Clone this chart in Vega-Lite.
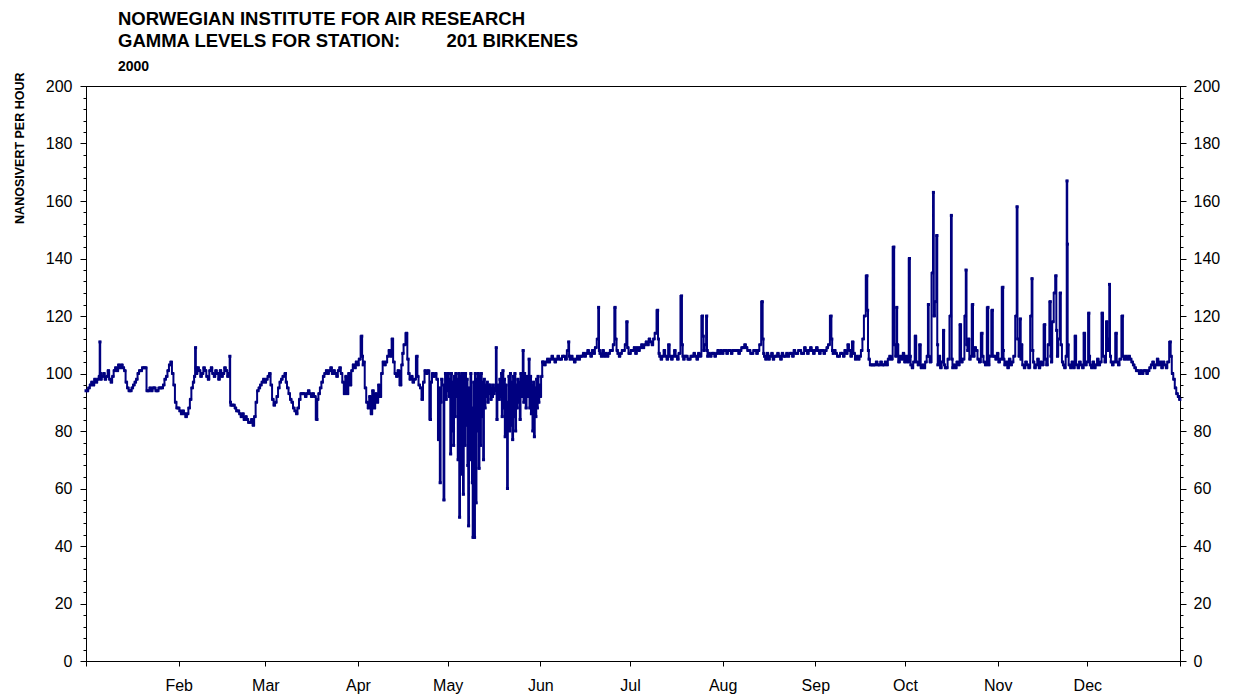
{
"$schema": "https://vega.github.io/schema/vega-lite/v6.json",
"width": 1094, "height": 575,
"autosize": {"type": "none"},
"padding": {"left": 86, "top": 86, "right": 55, "bottom": 37},
"background": "white",
"config": {
 "font": "Liberation Sans",
 "view": {"stroke": "#000000", "strokeWidth": 1},
 "axis": {"domainColor": "#000000", "tickColor": "#000000", "labelColor": "#000000", "labelFont": "Liberation Sans", "labelFontSize": 16, "grid": false, "domainWidth": 1, "tickWidth": 1, "titleColor": "#000000"}
},
"title": {"text": ["NORWEGIAN INSTITUTE FOR AIR RESEARCH", "GAMMA LEVELS FOR STATION:\u00a0\u00a0\u00a0\u00a0\u00a0\u00a0\u00a0\u00a0\u00a0201 BIRKENES"], "subtitle": "2000", "anchor": "start", "frame": "group", "dx": 32, "fontSize": 18.5, "fontWeight": "bold", "font": "Liberation Sans", "lineHeight": 22, "subtitleFontSize": 14, "subtitleFontWeight": "bold", "subtitleFont": "Liberation Sans", "subtitlePadding": 10, "offset": -2, "color": "#000000", "subtitleColor": "#000000"},
"data": {"values": [
{"t":"2000-01-01T00:00","v":94},{"t":"2000-01-01T12:00","v":94},{"t":"2000-01-02T00:00","v":95},{"t":"2000-01-02T12:00","v":96},{"t":"2000-01-03T00:00","v":97},{"t":"2000-01-03T12:00","v":96},{"t":"2000-01-04T00:00","v":98},{"t":"2000-01-04T12:00","v":97},{"t":"2000-01-05T00:00","v":98},{"t":"2000-01-05T12:00","v":99},{"t":"2000-01-05T16:00","v":111},{"t":"2000-01-05T20:00","v":100},{"t":"2000-01-06T00:00","v":98},{"t":"2000-01-06T12:00","v":99},{"t":"2000-01-07T00:00","v":100},{"t":"2000-01-07T12:00","v":98},{"t":"2000-01-08T00:00","v":99},{"t":"2000-01-08T12:00","v":101},{"t":"2000-01-09T00:00","v":98},{"t":"2000-01-09T12:00","v":97},{"t":"2000-01-10T00:00","v":99},{"t":"2000-01-10T12:00","v":101},{"t":"2000-01-11T00:00","v":102},{"t":"2000-01-11T12:00","v":101},{"t":"2000-01-12T00:00","v":103},{"t":"2000-01-12T12:00","v":102},{"t":"2000-01-13T00:00","v":103},{"t":"2000-01-13T12:00","v":102},{"t":"2000-01-14T00:00","v":101},{"t":"2000-01-14T12:00","v":97},{"t":"2000-01-15T00:00","v":95},{"t":"2000-01-15T12:00","v":94},{"t":"2000-01-16T00:00","v":94},{"t":"2000-01-16T12:00","v":95},{"t":"2000-01-17T00:00","v":96},{"t":"2000-01-17T12:00","v":97},{"t":"2000-01-18T00:00","v":98},{"t":"2000-01-18T12:00","v":100},{"t":"2000-01-19T00:00","v":101},{"t":"2000-01-19T12:00","v":101},{"t":"2000-01-20T00:00","v":102},{"t":"2000-01-20T12:00","v":102},{"t":"2000-01-21T00:00","v":102},{"t":"2000-01-21T12:00","v":94},{"t":"2000-01-22T00:00","v":94},{"t":"2000-01-22T12:00","v":95},{"t":"2000-01-23T00:00","v":94},{"t":"2000-01-23T12:00","v":95},{"t":"2000-01-24T00:00","v":95},{"t":"2000-01-24T12:00","v":94},{"t":"2000-01-25T00:00","v":94},{"t":"2000-01-25T12:00","v":95},{"t":"2000-01-26T00:00","v":95},{"t":"2000-01-26T12:00","v":95},{"t":"2000-01-27T00:00","v":96},{"t":"2000-01-27T12:00","v":98},{"t":"2000-01-28T00:00","v":99},{"t":"2000-01-28T12:00","v":101},{"t":"2000-01-29T00:00","v":103},{"t":"2000-01-29T12:00","v":104},{"t":"2000-01-30T00:00","v":100},{"t":"2000-01-30T12:00","v":96},{"t":"2000-01-31T00:00","v":90},{"t":"2000-01-31T12:00","v":88},
{"t":"2000-02-01T00:00","v":88},{"t":"2000-02-01T12:00","v":87},{"t":"2000-02-02T00:00","v":86},{"t":"2000-02-02T12:00","v":87},{"t":"2000-02-03T00:00","v":86},{"t":"2000-02-03T12:00","v":85},{"t":"2000-02-04T00:00","v":86},{"t":"2000-02-04T12:00","v":88},{"t":"2000-02-05T00:00","v":91},{"t":"2000-02-05T12:00","v":95},{"t":"2000-02-06T00:00","v":97},{"t":"2000-02-06T08:00","v":99},{"t":"2000-02-06T16:00","v":109},{"t":"2000-02-06T20:00","v":102},{"t":"2000-02-07T00:00","v":100},{"t":"2000-02-07T12:00","v":102},{"t":"2000-02-08T00:00","v":101},{"t":"2000-02-08T12:00","v":99},{"t":"2000-02-09T00:00","v":100},{"t":"2000-02-09T12:00","v":102},{"t":"2000-02-10T00:00","v":101},{"t":"2000-02-10T12:00","v":99},{"t":"2000-02-11T00:00","v":98},{"t":"2000-02-11T12:00","v":101},{"t":"2000-02-12T00:00","v":102},{"t":"2000-02-12T12:00","v":100},{"t":"2000-02-13T00:00","v":99},{"t":"2000-02-13T12:00","v":101},{"t":"2000-02-14T00:00","v":100},{"t":"2000-02-14T12:00","v":98},{"t":"2000-02-15T00:00","v":101},{"t":"2000-02-15T12:00","v":99},{"t":"2000-02-16T00:00","v":100},{"t":"2000-02-16T12:00","v":102},{"t":"2000-02-17T00:00","v":101},{"t":"2000-02-17T12:00","v":99},{"t":"2000-02-18T00:00","v":100},{"t":"2000-02-18T03:00","v":106},{"t":"2000-02-18T08:00","v":90},{"t":"2000-02-18T12:00","v":89},{"t":"2000-02-19T00:00","v":89},{"t":"2000-02-19T12:00","v":89},{"t":"2000-02-20T00:00","v":88},{"t":"2000-02-20T12:00","v":87},{"t":"2000-02-21T00:00","v":87},{"t":"2000-02-21T12:00","v":86},{"t":"2000-02-22T00:00","v":85},{"t":"2000-02-22T12:00","v":86},{"t":"2000-02-23T00:00","v":84},{"t":"2000-02-23T12:00","v":85},{"t":"2000-02-24T00:00","v":84},{"t":"2000-02-24T12:00","v":83},{"t":"2000-02-25T00:00","v":83},{"t":"2000-02-25T12:00","v":84},{"t":"2000-02-26T00:00","v":82},{"t":"2000-02-26T12:00","v":85},{"t":"2000-02-27T00:00","v":90},{"t":"2000-02-27T12:00","v":94},{"t":"2000-02-28T00:00","v":95},{"t":"2000-02-28T12:00","v":96},{"t":"2000-02-29T00:00","v":97},{"t":"2000-02-29T12:00","v":98},
{"t":"2000-03-01T00:00","v":97},{"t":"2000-03-01T12:00","v":98},{"t":"2000-03-02T00:00","v":99},{"t":"2000-03-02T12:00","v":100},{"t":"2000-03-03T00:00","v":96},{"t":"2000-03-03T12:00","v":91},{"t":"2000-03-04T00:00","v":89},{"t":"2000-03-04T12:00","v":90},{"t":"2000-03-05T00:00","v":92},{"t":"2000-03-05T12:00","v":95},{"t":"2000-03-06T00:00","v":97},{"t":"2000-03-06T12:00","v":98},{"t":"2000-03-07T00:00","v":99},{"t":"2000-03-07T18:00","v":100},{"t":"2000-03-08T00:00","v":97},{"t":"2000-03-08T12:00","v":95},{"t":"2000-03-09T00:00","v":93},{"t":"2000-03-09T12:00","v":91},{"t":"2000-03-10T00:00","v":90},{"t":"2000-03-10T12:00","v":88},{"t":"2000-03-11T00:00","v":87},{"t":"2000-03-11T12:00","v":86},{"t":"2000-03-12T00:00","v":88},{"t":"2000-03-12T12:00","v":91},{"t":"2000-03-13T00:00","v":93},{"t":"2000-03-13T12:00","v":93},{"t":"2000-03-14T00:00","v":93},{"t":"2000-03-14T12:00","v":92},{"t":"2000-03-15T00:00","v":93},{"t":"2000-03-15T12:00","v":94},{"t":"2000-03-16T00:00","v":93},{"t":"2000-03-16T12:00","v":92},{"t":"2000-03-17T00:00","v":93},{"t":"2000-03-17T12:00","v":92},{"t":"2000-03-18T06:00","v":84},{"t":"2000-03-18T12:00","v":91},{"t":"2000-03-19T00:00","v":93},{"t":"2000-03-19T12:00","v":95},{"t":"2000-03-20T00:00","v":97},{"t":"2000-03-20T12:00","v":99},{"t":"2000-03-21T00:00","v":100},{"t":"2000-03-21T12:00","v":101},{"t":"2000-03-22T00:00","v":100},{"t":"2000-03-22T12:00","v":101},{"t":"2000-03-23T00:00","v":102},{"t":"2000-03-23T12:00","v":100},{"t":"2000-03-24T00:00","v":101},{"t":"2000-03-24T12:00","v":100},{"t":"2000-03-25T00:00","v":99},{"t":"2000-03-25T12:00","v":101},{"t":"2000-03-26T00:00","v":102},{"t":"2000-03-26T12:00","v":100},{"t":"2000-03-27T00:00","v":97},{"t":"2000-03-27T12:00","v":93},{"t":"2000-03-28T00:00","v":99},{"t":"2000-03-28T12:00","v":93},{"t":"2000-03-29T00:00","v":100},{"t":"2000-03-29T12:00","v":96},{"t":"2000-03-30T00:00","v":101},{"t":"2000-03-30T12:00","v":103},{"t":"2000-03-31T00:00","v":102},{"t":"2000-03-31T12:00","v":104},
{"t":"2000-04-01T00:00","v":103},{"t":"2000-04-01T12:00","v":105},{"t":"2000-04-02T06:00","v":113},{"t":"2000-04-02T12:00","v":106},{"t":"2000-04-02T18:00","v":103},{"t":"2000-04-03T00:00","v":104},{"t":"2000-04-03T12:00","v":95},{"t":"2000-04-04T00:00","v":90},{"t":"2000-04-04T12:00","v":88},{"t":"2000-04-05T00:00","v":92},{"t":"2000-04-05T12:00","v":86},{"t":"2000-04-06T00:00","v":94},{"t":"2000-04-06T12:00","v":88},{"t":"2000-04-07T00:00","v":93},{"t":"2000-04-07T12:00","v":90},{"t":"2000-04-08T00:00","v":96},{"t":"2000-04-08T12:00","v":92},{"t":"2000-04-09T00:00","v":100},{"t":"2000-04-09T12:00","v":104},{"t":"2000-04-10T00:00","v":103},{"t":"2000-04-10T12:00","v":104},{"t":"2000-04-11T00:00","v":106},{"t":"2000-04-11T12:00","v":108},{"t":"2000-04-12T00:00","v":106},{"t":"2000-04-12T12:00","v":112},{"t":"2000-04-13T00:00","v":104},{"t":"2000-04-13T12:00","v":100},{"t":"2000-04-14T00:00","v":99},{"t":"2000-04-14T12:00","v":101},{"t":"2000-04-15T06:00","v":96},{"t":"2000-04-15T18:00","v":103},{"t":"2000-04-16T00:00","v":107},{"t":"2000-04-16T12:00","v":110},{"t":"2000-04-17T06:00","v":114},{"t":"2000-04-17T18:00","v":105},{"t":"2000-04-18T00:00","v":100},{"t":"2000-04-18T12:00","v":98},{"t":"2000-04-19T00:00","v":99},{"t":"2000-04-19T12:00","v":97},{"t":"2000-04-20T00:00","v":98},{"t":"2000-04-20T18:00","v":106},{"t":"2000-04-21T00:00","v":99},{"t":"2000-04-21T12:00","v":96},{"t":"2000-04-22T00:00","v":95},{"t":"2000-04-22T12:00","v":91},{"t":"2000-04-23T00:00","v":97},{"t":"2000-04-23T12:00","v":101},{"t":"2000-04-24T00:00","v":100},{"t":"2000-04-24T12:00","v":101},{"t":"2000-04-25T06:00","v":84},{"t":"2000-04-25T12:00","v":97},{"t":"2000-04-26T00:00","v":100},{"t":"2000-04-26T12:00","v":99},{"t":"2000-04-27T00:00","v":100},{"t":"2000-04-27T12:00","v":98},{"t":"2000-04-28T00:00","v":77},{"t":"2000-04-28T06:00","v":95},{"t":"2000-04-28T12:00","v":62},{"t":"2000-04-28T18:00","v":90},{"t":"2000-04-29T00:00","v":98},{"t":"2000-04-29T12:00","v":96},{"t":"2000-04-29T18:00","v":56},{"t":"2000-04-30T00:00","v":95},{"t":"2000-04-30T06:00","v":100},{"t":"2000-04-30T12:00","v":91},{"t":"2000-04-30T18:00","v":99},
{"t":"2000-05-01T00:00","v":94},{"t":"2000-05-01T06:00","v":100},{"t":"2000-05-01T12:00","v":92},{"t":"2000-05-01T18:00","v":98},{"t":"2000-05-02T00:00","v":72},{"t":"2000-05-02T06:00","v":100},{"t":"2000-05-02T12:00","v":80},{"t":"2000-05-02T18:00","v":97},{"t":"2000-05-03T00:00","v":75},{"t":"2000-05-03T06:00","v":99},{"t":"2000-05-03T12:00","v":85},{"t":"2000-05-03T18:00","v":100},{"t":"2000-05-04T00:00","v":92},{"t":"2000-05-04T06:00","v":98},{"t":"2000-05-04T12:00","v":70},{"t":"2000-05-04T18:00","v":100},{"t":"2000-05-05T00:00","v":50},{"t":"2000-05-05T06:00","v":99},{"t":"2000-05-05T12:00","v":65},{"t":"2000-05-05T18:00","v":100},{"t":"2000-05-06T00:00","v":95},{"t":"2000-05-06T06:00","v":58},{"t":"2000-05-06T12:00","v":100},{"t":"2000-05-06T18:00","v":75},{"t":"2000-05-07T00:00","v":100},{"t":"2000-05-07T06:00","v":82},{"t":"2000-05-07T12:00","v":98},{"t":"2000-05-07T18:00","v":68},{"t":"2000-05-08T00:00","v":47},{"t":"2000-05-08T06:00","v":95},{"t":"2000-05-08T12:00","v":70},{"t":"2000-05-08T18:00","v":100},{"t":"2000-05-09T00:00","v":88},{"t":"2000-05-09T06:00","v":62},{"t":"2000-05-09T12:00","v":43},{"t":"2000-05-09T18:00","v":97},{"t":"2000-05-10T00:00","v":43},{"t":"2000-05-10T06:00","v":100},{"t":"2000-05-10T12:00","v":55},{"t":"2000-05-10T18:00","v":98},{"t":"2000-05-11T00:00","v":80},{"t":"2000-05-11T06:00","v":100},{"t":"2000-05-11T12:00","v":67},{"t":"2000-05-11T18:00","v":99},{"t":"2000-05-12T00:00","v":75},{"t":"2000-05-12T06:00","v":100},{"t":"2000-05-12T12:00","v":85},{"t":"2000-05-12T18:00","v":97},{"t":"2000-05-13T00:00","v":70},{"t":"2000-05-13T06:00","v":98},{"t":"2000-05-13T12:00","v":88},{"t":"2000-05-13T18:00","v":96},{"t":"2000-05-14T00:00","v":92},{"t":"2000-05-14T06:00","v":97},{"t":"2000-05-14T12:00","v":90},{"t":"2000-05-14T18:00","v":96},{"t":"2000-05-15T00:00","v":93},{"t":"2000-05-15T06:00","v":96},{"t":"2000-05-15T12:00","v":91},{"t":"2000-05-15T18:00","v":95},{"t":"2000-05-16T00:00","v":92},{"t":"2000-05-16T06:00","v":96},{"t":"2000-05-16T12:00","v":93},{"t":"2000-05-16T18:00","v":94},{"t":"2000-05-17T00:00","v":95},{"t":"2000-05-17T06:00","v":109},{"t":"2000-05-17T12:00","v":84},{"t":"2000-05-17T18:00","v":94},{"t":"2000-05-18T00:00","v":96},{"t":"2000-05-18T06:00","v":91},{"t":"2000-05-18T12:00","v":98},{"t":"2000-05-18T18:00","v":92},{"t":"2000-05-19T00:00","v":100},{"t":"2000-05-19T06:00","v":85},{"t":"2000-05-19T12:00","v":101},{"t":"2000-05-19T18:00","v":88},{"t":"2000-05-20T00:00","v":98},{"t":"2000-05-20T06:00","v":78},{"t":"2000-05-20T12:00","v":96},{"t":"2000-05-20T18:00","v":84},{"t":"2000-05-21T00:00","v":60},{"t":"2000-05-21T06:00","v":90},{"t":"2000-05-21T12:00","v":99},{"t":"2000-05-21T18:00","v":80},{"t":"2000-05-22T00:00","v":100},{"t":"2000-05-22T06:00","v":82},{"t":"2000-05-22T12:00","v":97},{"t":"2000-05-22T18:00","v":77},{"t":"2000-05-23T00:00","v":99},{"t":"2000-05-23T06:00","v":85},{"t":"2000-05-23T12:00","v":100},{"t":"2000-05-23T18:00","v":80},{"t":"2000-05-24T00:00","v":96},{"t":"2000-05-24T06:00","v":88},{"t":"2000-05-24T12:00","v":98},{"t":"2000-05-24T18:00","v":90},{"t":"2000-05-25T00:00","v":97},{"t":"2000-05-25T06:00","v":84},{"t":"2000-05-25T12:00","v":100},{"t":"2000-05-25T18:00","v":92},{"t":"2000-05-26T00:00","v":96},{"t":"2000-05-26T06:00","v":108},{"t":"2000-05-26T12:00","v":90},{"t":"2000-05-26T18:00","v":100},{"t":"2000-05-27T00:00","v":95},{"t":"2000-05-27T06:00","v":88},{"t":"2000-05-27T12:00","v":99},{"t":"2000-05-27T18:00","v":92},{"t":"2000-05-28T00:00","v":96},{"t":"2000-05-28T06:00","v":105},{"t":"2000-05-28T12:00","v":88},{"t":"2000-05-28T18:00","v":99},{"t":"2000-05-29T00:00","v":86},{"t":"2000-05-29T06:00","v":96},{"t":"2000-05-29T12:00","v":80},{"t":"2000-05-29T18:00","v":97},{"t":"2000-05-30T00:00","v":78},{"t":"2000-05-30T06:00","v":95},{"t":"2000-05-30T12:00","v":85},{"t":"2000-05-30T18:00","v":98},{"t":"2000-05-31T00:00","v":88},{"t":"2000-05-31T06:00","v":99},{"t":"2000-05-31T12:00","v":90},{"t":"2000-05-31T18:00","v":96},
{"t":"2000-06-01T00:00","v":92},{"t":"2000-06-01T12:00","v":99},{"t":"2000-06-01T18:00","v":104},{"t":"2000-06-02T00:00","v":104},{"t":"2000-06-02T12:00","v":103},{"t":"2000-06-03T00:00","v":104},{"t":"2000-06-03T12:00","v":105},{"t":"2000-06-04T00:00","v":104},{"t":"2000-06-04T12:00","v":105},{"t":"2000-06-05T00:00","v":106},{"t":"2000-06-05T12:00","v":105},{"t":"2000-06-06T00:00","v":104},{"t":"2000-06-06T12:00","v":105},{"t":"2000-06-07T00:00","v":106},{"t":"2000-06-07T12:00","v":105},{"t":"2000-06-08T00:00","v":105},{"t":"2000-06-08T12:00","v":106},{"t":"2000-06-09T00:00","v":106},{"t":"2000-06-09T12:00","v":105},{"t":"2000-06-10T06:00","v":108},{"t":"2000-06-10T12:00","v":111},{"t":"2000-06-10T18:00","v":106},{"t":"2000-06-11T00:00","v":105},{"t":"2000-06-11T12:00","v":106},{"t":"2000-06-12T00:00","v":105},{"t":"2000-06-12T12:00","v":104},{"t":"2000-06-13T00:00","v":105},{"t":"2000-06-13T12:00","v":106},{"t":"2000-06-14T00:00","v":105},{"t":"2000-06-14T12:00","v":106},{"t":"2000-06-15T00:00","v":106},{"t":"2000-06-15T12:00","v":107},{"t":"2000-06-16T00:00","v":106},{"t":"2000-06-16T12:00","v":107},{"t":"2000-06-17T00:00","v":108},{"t":"2000-06-17T12:00","v":107},{"t":"2000-06-18T00:00","v":106},{"t":"2000-06-18T12:00","v":108},{"t":"2000-06-19T00:00","v":107},{"t":"2000-06-19T12:00","v":109},{"t":"2000-06-20T06:00","v":112},{"t":"2000-06-20T12:00","v":123},{"t":"2000-06-20T18:00","v":108},{"t":"2000-06-21T00:00","v":107},{"t":"2000-06-21T12:00","v":106},{"t":"2000-06-22T00:00","v":108},{"t":"2000-06-22T12:00","v":106},{"t":"2000-06-23T00:00","v":107},{"t":"2000-06-23T12:00","v":106},{"t":"2000-06-24T00:00","v":107},{"t":"2000-06-24T12:00","v":108},{"t":"2000-06-25T00:00","v":108},{"t":"2000-06-25T12:00","v":110},{"t":"2000-06-26T00:00","v":123},{"t":"2000-06-26T06:00","v":112},{"t":"2000-06-26T18:00","v":108},{"t":"2000-06-27T00:00","v":107},{"t":"2000-06-27T12:00","v":106},{"t":"2000-06-28T00:00","v":107},{"t":"2000-06-28T12:00","v":108},{"t":"2000-06-29T00:00","v":108},{"t":"2000-06-29T12:00","v":110},{"t":"2000-06-30T00:00","v":118},{"t":"2000-06-30T06:00","v":109},{"t":"2000-06-30T18:00","v":107},
{"t":"2000-07-01T00:00","v":107},{"t":"2000-07-01T12:00","v":108},{"t":"2000-07-02T00:00","v":108},{"t":"2000-07-02T12:00","v":109},{"t":"2000-07-03T00:00","v":107},{"t":"2000-07-03T12:00","v":109},{"t":"2000-07-04T00:00","v":108},{"t":"2000-07-04T12:00","v":109},{"t":"2000-07-05T00:00","v":110},{"t":"2000-07-05T12:00","v":109},{"t":"2000-07-06T00:00","v":110},{"t":"2000-07-06T12:00","v":111},{"t":"2000-07-07T00:00","v":110},{"t":"2000-07-07T12:00","v":112},{"t":"2000-07-08T00:00","v":111},{"t":"2000-07-08T12:00","v":110},{"t":"2000-07-09T00:00","v":112},{"t":"2000-07-09T12:00","v":114},{"t":"2000-07-10T06:00","v":122},{"t":"2000-07-10T12:00","v":112},{"t":"2000-07-10T18:00","v":107},{"t":"2000-07-11T00:00","v":106},{"t":"2000-07-11T12:00","v":105},{"t":"2000-07-12T00:00","v":106},{"t":"2000-07-12T12:00","v":108},{"t":"2000-07-13T00:00","v":106},{"t":"2000-07-13T12:00","v":105},{"t":"2000-07-14T00:00","v":110},{"t":"2000-07-14T12:00","v":106},{"t":"2000-07-15T00:00","v":105},{"t":"2000-07-15T12:00","v":106},{"t":"2000-07-16T00:00","v":108},{"t":"2000-07-16T12:00","v":106},{"t":"2000-07-17T00:00","v":105},{"t":"2000-07-17T12:00","v":107},{"t":"2000-07-18T06:00","v":127},{"t":"2000-07-18T12:00","v":110},{"t":"2000-07-18T18:00","v":106},{"t":"2000-07-19T00:00","v":105},{"t":"2000-07-19T12:00","v":106},{"t":"2000-07-20T00:00","v":106},{"t":"2000-07-20T12:00","v":105},{"t":"2000-07-21T00:00","v":105},{"t":"2000-07-21T12:00","v":106},{"t":"2000-07-22T00:00","v":106},{"t":"2000-07-22T12:00","v":107},{"t":"2000-07-23T00:00","v":106},{"t":"2000-07-23T12:00","v":105},{"t":"2000-07-24T00:00","v":107},{"t":"2000-07-24T12:00","v":106},{"t":"2000-07-25T06:00","v":120},{"t":"2000-07-25T12:00","v":113},{"t":"2000-07-25T18:00","v":108},{"t":"2000-07-26T06:00","v":110},{"t":"2000-07-26T16:00","v":120},{"t":"2000-07-26T20:00","v":108},{"t":"2000-07-27T00:00","v":106},{"t":"2000-07-27T12:00","v":107},{"t":"2000-07-28T00:00","v":106},{"t":"2000-07-28T12:00","v":107},{"t":"2000-07-29T00:00","v":107},{"t":"2000-07-29T12:00","v":106},{"t":"2000-07-30T00:00","v":107},{"t":"2000-07-30T12:00","v":108},{"t":"2000-07-31T00:00","v":107},{"t":"2000-07-31T12:00","v":108},
{"t":"2000-08-01T00:00","v":107},{"t":"2000-08-01T12:00","v":108},{"t":"2000-08-02T00:00","v":108},{"t":"2000-08-02T12:00","v":107},{"t":"2000-08-03T00:00","v":108},{"t":"2000-08-03T12:00","v":108},{"t":"2000-08-04T00:00","v":107},{"t":"2000-08-04T12:00","v":108},{"t":"2000-08-05T00:00","v":108},{"t":"2000-08-05T12:00","v":108},{"t":"2000-08-06T00:00","v":108},{"t":"2000-08-06T12:00","v":107},{"t":"2000-08-07T00:00","v":108},{"t":"2000-08-07T12:00","v":109},{"t":"2000-08-08T00:00","v":109},{"t":"2000-08-08T12:00","v":110},{"t":"2000-08-09T00:00","v":109},{"t":"2000-08-09T12:00","v":108},{"t":"2000-08-10T00:00","v":108},{"t":"2000-08-10T12:00","v":107},{"t":"2000-08-11T00:00","v":107},{"t":"2000-08-11T12:00","v":108},{"t":"2000-08-12T00:00","v":108},{"t":"2000-08-12T12:00","v":107},{"t":"2000-08-13T00:00","v":108},{"t":"2000-08-13T12:00","v":110},{"t":"2000-08-14T06:00","v":125},{"t":"2000-08-14T12:00","v":112},{"t":"2000-08-14T18:00","v":107},{"t":"2000-08-15T00:00","v":106},{"t":"2000-08-15T12:00","v":105},{"t":"2000-08-16T00:00","v":107},{"t":"2000-08-16T12:00","v":105},{"t":"2000-08-17T00:00","v":106},{"t":"2000-08-17T12:00","v":107},{"t":"2000-08-18T00:00","v":105},{"t":"2000-08-18T12:00","v":106},{"t":"2000-08-19T00:00","v":106},{"t":"2000-08-19T12:00","v":107},{"t":"2000-08-20T00:00","v":106},{"t":"2000-08-20T12:00","v":105},{"t":"2000-08-21T00:00","v":107},{"t":"2000-08-21T12:00","v":106},{"t":"2000-08-22T00:00","v":106},{"t":"2000-08-22T12:00","v":107},{"t":"2000-08-23T00:00","v":106},{"t":"2000-08-23T12:00","v":107},{"t":"2000-08-24T00:00","v":107},{"t":"2000-08-24T12:00","v":106},{"t":"2000-08-25T00:00","v":108},{"t":"2000-08-25T12:00","v":107},{"t":"2000-08-26T00:00","v":107},{"t":"2000-08-26T12:00","v":108},{"t":"2000-08-27T00:00","v":108},{"t":"2000-08-27T12:00","v":107},{"t":"2000-08-28T00:00","v":107},{"t":"2000-08-28T12:00","v":109},{"t":"2000-08-29T00:00","v":108},{"t":"2000-08-29T12:00","v":107},{"t":"2000-08-30T00:00","v":108},{"t":"2000-08-30T12:00","v":109},{"t":"2000-08-31T00:00","v":108},{"t":"2000-08-31T12:00","v":107},
{"t":"2000-09-01T00:00","v":108},{"t":"2000-09-01T12:00","v":109},{"t":"2000-09-02T00:00","v":108},{"t":"2000-09-02T12:00","v":107},{"t":"2000-09-03T00:00","v":108},{"t":"2000-09-03T12:00","v":108},{"t":"2000-09-04T00:00","v":107},{"t":"2000-09-04T12:00","v":108},{"t":"2000-09-05T00:00","v":109},{"t":"2000-09-05T12:00","v":110},{"t":"2000-09-06T06:00","v":120},{"t":"2000-09-06T12:00","v":112},{"t":"2000-09-06T18:00","v":108},{"t":"2000-09-07T00:00","v":107},{"t":"2000-09-07T12:00","v":108},{"t":"2000-09-08T00:00","v":107},{"t":"2000-09-08T12:00","v":106},{"t":"2000-09-09T00:00","v":106},{"t":"2000-09-09T12:00","v":107},{"t":"2000-09-10T00:00","v":107},{"t":"2000-09-10T12:00","v":106},{"t":"2000-09-11T00:00","v":108},{"t":"2000-09-11T12:00","v":107},{"t":"2000-09-12T00:00","v":110},{"t":"2000-09-12T12:00","v":108},{"t":"2000-09-13T00:00","v":106},{"t":"2000-09-13T12:00","v":111},{"t":"2000-09-14T00:00","v":107},{"t":"2000-09-14T12:00","v":105},{"t":"2000-09-15T00:00","v":106},{"t":"2000-09-15T12:00","v":105},{"t":"2000-09-16T00:00","v":106},{"t":"2000-09-16T12:00","v":108},{"t":"2000-09-17T00:00","v":112},{"t":"2000-09-17T12:00","v":120},{"t":"2000-09-18T06:00","v":134},{"t":"2000-09-18T12:00","v":122},{"t":"2000-09-18T18:00","v":108},{"t":"2000-09-19T00:00","v":105},{"t":"2000-09-19T12:00","v":103},{"t":"2000-09-20T00:00","v":103},{"t":"2000-09-20T12:00","v":103},{"t":"2000-09-21T00:00","v":103},{"t":"2000-09-21T12:00","v":104},{"t":"2000-09-22T00:00","v":103},{"t":"2000-09-22T12:00","v":103},{"t":"2000-09-23T00:00","v":104},{"t":"2000-09-23T12:00","v":103},{"t":"2000-09-24T00:00","v":103},{"t":"2000-09-24T12:00","v":104},{"t":"2000-09-25T00:00","v":103},{"t":"2000-09-25T12:00","v":105},{"t":"2000-09-26T00:00","v":106},{"t":"2000-09-26T12:00","v":105},{"t":"2000-09-27T06:00","v":144},{"t":"2000-09-27T12:00","v":110},{"t":"2000-09-28T00:00","v":106},{"t":"2000-09-28T06:00","v":123},{"t":"2000-09-28T12:00","v":110},{"t":"2000-09-29T00:00","v":104},{"t":"2000-09-29T12:00","v":106},{"t":"2000-09-30T00:00","v":105},{"t":"2000-09-30T12:00","v":107},
{"t":"2000-10-01T00:00","v":104},{"t":"2000-10-01T12:00","v":106},{"t":"2000-10-02T00:00","v":104},{"t":"2000-10-02T12:00","v":140},{"t":"2000-10-02T18:00","v":106},{"t":"2000-10-03T00:00","v":103},{"t":"2000-10-03T12:00","v":102},{"t":"2000-10-04T00:00","v":104},{"t":"2000-10-04T12:00","v":113},{"t":"2000-10-05T00:00","v":104},{"t":"2000-10-05T12:00","v":103},{"t":"2000-10-06T00:00","v":110},{"t":"2000-10-06T12:00","v":102},{"t":"2000-10-07T00:00","v":103},{"t":"2000-10-07T12:00","v":102},{"t":"2000-10-08T00:00","v":104},{"t":"2000-10-08T12:00","v":106},{"t":"2000-10-08T20:00","v":124},{"t":"2000-10-09T00:00","v":106},{"t":"2000-10-09T12:00","v":104},{"t":"2000-10-10T06:00","v":135},{"t":"2000-10-10T12:00","v":163},{"t":"2000-10-10T18:00","v":120},{"t":"2000-10-11T06:00","v":125},{"t":"2000-10-11T16:00","v":148},{"t":"2000-10-11T22:00","v":110},{"t":"2000-10-12T00:00","v":103},{"t":"2000-10-12T12:00","v":106},{"t":"2000-10-13T00:00","v":102},{"t":"2000-10-13T12:00","v":104},{"t":"2000-10-13T22:00","v":115},{"t":"2000-10-14T06:00","v":103},{"t":"2000-10-14T12:00","v":102},{"t":"2000-10-15T00:00","v":102},{"t":"2000-10-15T12:00","v":105},{"t":"2000-10-16T06:00","v":120},{"t":"2000-10-16T12:00","v":155},{"t":"2000-10-16T18:00","v":105},{"t":"2000-10-17T00:00","v":102},{"t":"2000-10-17T12:00","v":103},{"t":"2000-10-18T00:00","v":102},{"t":"2000-10-18T12:00","v":104},{"t":"2000-10-19T00:00","v":103},{"t":"2000-10-19T12:00","v":117},{"t":"2000-10-20T00:00","v":104},{"t":"2000-10-20T12:00","v":105},{"t":"2000-10-21T06:00","v":120},{"t":"2000-10-21T10:00","v":136},{"t":"2000-10-21T18:00","v":110},{"t":"2000-10-22T00:00","v":108},{"t":"2000-10-22T07:00","v":112},{"t":"2000-10-22T18:00","v":105},{"t":"2000-10-23T00:00","v":106},{"t":"2000-10-23T16:00","v":124},{"t":"2000-10-23T20:00","v":108},{"t":"2000-10-24T00:00","v":106},{"t":"2000-10-24T12:00","v":109},{"t":"2000-10-25T00:00","v":108},{"t":"2000-10-25T12:00","v":105},{"t":"2000-10-26T00:00","v":104},{"t":"2000-10-26T18:00","v":114},{"t":"2000-10-27T00:00","v":106},{"t":"2000-10-27T12:00","v":104},{"t":"2000-10-28T00:00","v":103},{"t":"2000-10-28T18:00","v":123},{"t":"2000-10-28T22:00","v":106},{"t":"2000-10-29T00:00","v":103},{"t":"2000-10-29T12:00","v":106},{"t":"2000-10-30T06:00","v":122},{"t":"2000-10-30T12:00","v":106},{"t":"2000-10-31T00:00","v":106},{"t":"2000-10-31T12:00","v":105},
{"t":"2000-11-01T00:00","v":107},{"t":"2000-11-01T12:00","v":104},{"t":"2000-11-02T00:00","v":105},{"t":"2000-11-02T18:00","v":130},{"t":"2000-11-02T22:00","v":108},{"t":"2000-11-03T00:00","v":105},{"t":"2000-11-03T12:00","v":103},{"t":"2000-11-04T00:00","v":104},{"t":"2000-11-04T12:00","v":102},{"t":"2000-11-05T00:00","v":105},{"t":"2000-11-05T12:00","v":103},{"t":"2000-11-06T00:00","v":104},{"t":"2000-11-06T12:00","v":106},{"t":"2000-11-07T06:00","v":120},{"t":"2000-11-07T12:00","v":158},{"t":"2000-11-07T18:00","v":112},{"t":"2000-11-08T06:00","v":106},{"t":"2000-11-08T14:00","v":119},{"t":"2000-11-08T20:00","v":105},{"t":"2000-11-09T00:00","v":110},{"t":"2000-11-09T12:00","v":103},{"t":"2000-11-10T00:00","v":102},{"t":"2000-11-10T12:00","v":104},{"t":"2000-11-11T00:00","v":103},{"t":"2000-11-11T12:00","v":102},{"t":"2000-11-12T06:00","v":120},{"t":"2000-11-12T12:00","v":133},{"t":"2000-11-12T18:00","v":108},{"t":"2000-11-13T00:00","v":104},{"t":"2000-11-13T12:00","v":102},{"t":"2000-11-14T00:00","v":103},{"t":"2000-11-14T12:00","v":105},{"t":"2000-11-15T00:00","v":102},{"t":"2000-11-15T12:00","v":104},{"t":"2000-11-16T00:00","v":103},{"t":"2000-11-16T18:00","v":117},{"t":"2000-11-17T00:00","v":105},{"t":"2000-11-17T12:00","v":103},{"t":"2000-11-18T00:00","v":110},{"t":"2000-11-18T14:00","v":125},{"t":"2000-11-18T20:00","v":106},{"t":"2000-11-19T00:00","v":104},{"t":"2000-11-19T12:00","v":118},{"t":"2000-11-20T00:00","v":128},{"t":"2000-11-20T12:00","v":134},{"t":"2000-11-20T18:00","v":115},{"t":"2000-11-21T00:00","v":106},{"t":"2000-11-21T12:00","v":112},{"t":"2000-11-22T00:00","v":128},{"t":"2000-11-22T06:00","v":110},{"t":"2000-11-22T18:00","v":104},{"t":"2000-11-23T00:00","v":103},{"t":"2000-11-23T12:00","v":102},{"t":"2000-11-24T00:00","v":106},{"t":"2000-11-24T05:00","v":167},{"t":"2000-11-24T08:00","v":145},{"t":"2000-11-24T12:00","v":110},{"t":"2000-11-25T00:00","v":103},{"t":"2000-11-25T12:00","v":102},{"t":"2000-11-26T00:00","v":104},{"t":"2000-11-26T12:00","v":102},{"t":"2000-11-27T00:00","v":113},{"t":"2000-11-27T12:00","v":103},{"t":"2000-11-28T00:00","v":102},{"t":"2000-11-28T12:00","v":104},{"t":"2000-11-29T00:00","v":103},{"t":"2000-11-29T12:00","v":102},{"t":"2000-11-30T00:00","v":114},{"t":"2000-11-30T12:00","v":103},
{"t":"2000-12-01T00:00","v":104},{"t":"2000-12-01T12:00","v":121},{"t":"2000-12-01T18:00","v":106},{"t":"2000-12-02T00:00","v":103},{"t":"2000-12-02T12:00","v":102},{"t":"2000-12-03T00:00","v":104},{"t":"2000-12-03T12:00","v":102},{"t":"2000-12-04T00:00","v":103},{"t":"2000-12-04T12:00","v":105},{"t":"2000-12-05T00:00","v":103},{"t":"2000-12-05T12:00","v":104},{"t":"2000-12-06T00:00","v":121},{"t":"2000-12-06T12:00","v":106},{"t":"2000-12-07T00:00","v":104},{"t":"2000-12-07T12:00","v":118},{"t":"2000-12-07T18:00","v":108},{"t":"2000-12-08T06:00","v":112},{"t":"2000-12-08T10:00","v":131},{"t":"2000-12-08T18:00","v":106},{"t":"2000-12-09T00:00","v":104},{"t":"2000-12-09T12:00","v":103},{"t":"2000-12-10T00:00","v":104},{"t":"2000-12-10T16:00","v":114},{"t":"2000-12-11T00:00","v":104},{"t":"2000-12-11T12:00","v":103},{"t":"2000-12-12T00:00","v":105},{"t":"2000-12-12T19:00","v":120},{"t":"2000-12-13T00:00","v":106},{"t":"2000-12-13T12:00","v":105},{"t":"2000-12-14T00:00","v":106},{"t":"2000-12-14T12:00","v":105},{"t":"2000-12-15T00:00","v":106},{"t":"2000-12-15T12:00","v":105},{"t":"2000-12-16T00:00","v":104},{"t":"2000-12-16T12:00","v":103},{"t":"2000-12-17T00:00","v":102},{"t":"2000-12-17T12:00","v":101},{"t":"2000-12-18T00:00","v":101},{"t":"2000-12-18T12:00","v":100},{"t":"2000-12-19T00:00","v":101},{"t":"2000-12-19T12:00","v":100},{"t":"2000-12-20T00:00","v":101},{"t":"2000-12-20T12:00","v":101},{"t":"2000-12-21T00:00","v":100},{"t":"2000-12-21T12:00","v":101},{"t":"2000-12-22T00:00","v":102},{"t":"2000-12-22T12:00","v":103},{"t":"2000-12-23T00:00","v":104},{"t":"2000-12-23T12:00","v":102},{"t":"2000-12-24T00:00","v":103},{"t":"2000-12-24T12:00","v":105},{"t":"2000-12-25T00:00","v":103},{"t":"2000-12-25T12:00","v":104},{"t":"2000-12-26T00:00","v":102},{"t":"2000-12-26T12:00","v":104},{"t":"2000-12-27T00:00","v":103},{"t":"2000-12-27T12:00","v":102},{"t":"2000-12-28T00:00","v":104},{"t":"2000-12-28T18:00","v":111},{"t":"2000-12-29T00:00","v":106},{"t":"2000-12-29T12:00","v":100},{"t":"2000-12-30T00:00","v":98},{"t":"2000-12-30T12:00","v":95},{"t":"2000-12-31T00:00","v":93},{"t":"2000-12-31T12:00","v":92},{"t":"2000-12-31T23:00","v":91}
]},
"layer": [
 {
  "mark": {"type": "line", "interpolate": "step", "color": "#000080", "strokeWidth": 2, "point": {"filled": true, "size": 9, "shape": "square", "color": "#000080"}},
  "encoding": {
   "x": {"field": "t", "type": "temporal",
     "scale": {"domain": [{"year": 2000, "month": 1, "date": 1}, {"year": 2001, "month": 1, "date": 1}], "nice": false},
     "axis": {"title": null, "values": [{"year": 2000, "month": 1, "date": 1}, {"year": 2000, "month": 2, "date": 1}, {"year": 2000, "month": 3, "date": 1}, {"year": 2000, "month": 4, "date": 1}, {"year": 2000, "month": 5, "date": 1}, {"year": 2000, "month": 6, "date": 1}, {"year": 2000, "month": 7, "date": 1}, {"year": 2000, "month": 8, "date": 1}, {"year": 2000, "month": 9, "date": 1}, {"year": 2000, "month": 10, "date": 1}, {"year": 2000, "month": 11, "date": 1}, {"year": 2000, "month": 12, "date": 1}, {"year": 2001, "month": 1, "date": 1}],
       "labelExpr": "month(datum.value) == 0 ? '' : timeFormat(datum.value, '%b')", "tickSize": 5, "labelPadding": 11, "labelFontSize": 16, "labelFlush": false, "labelOverlap": false}},
   "y": {"field": "v", "type": "quantitative", "scale": {"domain": [0, 200], "nice": false},
     "axis": {"orient": "left", "values": [0, 20, 40, 60, 80, 100, 120, 140, 160, 180, 200], "tickSize": 6, "labelPadding": 8, "labelFontSize": 16,
       "title": "NANOSIVERT PER HOUR", "titleFontSize": 12.5, "titleFontWeight": "bold", "titleFont": "Liberation Sans", "titleAngle": -90, "titleAlign": "right", "titleBaseline": "middle", "titleX": -67, "titleY": -14}}
  }
 },
 {
  "transform": [{"aggregate": [{"op": "max", "field": "v", "as": "v"}]}],
  "mark": {"type": "point", "opacity": 0},
  "encoding": {
   "y": {"field": "v", "type": "quantitative", "axis": {"orient": "left", "values": [0,4,8,12,16,20,24,28,32,36,40,44,48,52,56,60,64,68,72,76,80,84,88,92,96,100,104,108,112,116,120,124,128,132,136,140,144,148,152,156,160,164,168,172,176,180,184,188,192,196,200], "labels": false, "tickSize": 3, "domain": false, "title": null}}
  }
 },
 {
  "transform": [{"aggregate": [{"op": "max", "field": "v", "as": "v"}]}],
  "mark": {"type": "point", "opacity": 0},
  "encoding": {
   "y": {"field": "v", "type": "quantitative", "axis": {"orient": "right", "values": [0, 20, 40, 60, 80, 100, 120, 140, 160, 180, 200], "tickSize": 6, "labelPadding": 7, "labelFontSize": 16, "title": null}}
  }
 },
 {
  "transform": [{"aggregate": [{"op": "max", "field": "v", "as": "v"}]}],
  "mark": {"type": "point", "opacity": 0},
  "encoding": {
   "y": {"field": "v", "type": "quantitative", "axis": {"orient": "right", "values": [0,4,8,12,16,20,24,28,32,36,40,44,48,52,56,60,64,68,72,76,80,84,88,92,96,100,104,108,112,116,120,124,128,132,136,140,144,148,152,156,160,164,168,172,176,180,184,188,192,196,200], "labels": false, "tickSize": 3, "domain": false, "title": null}}
  }
 }
],
"resolve": {"axis": {"y": "independent"}}
}
